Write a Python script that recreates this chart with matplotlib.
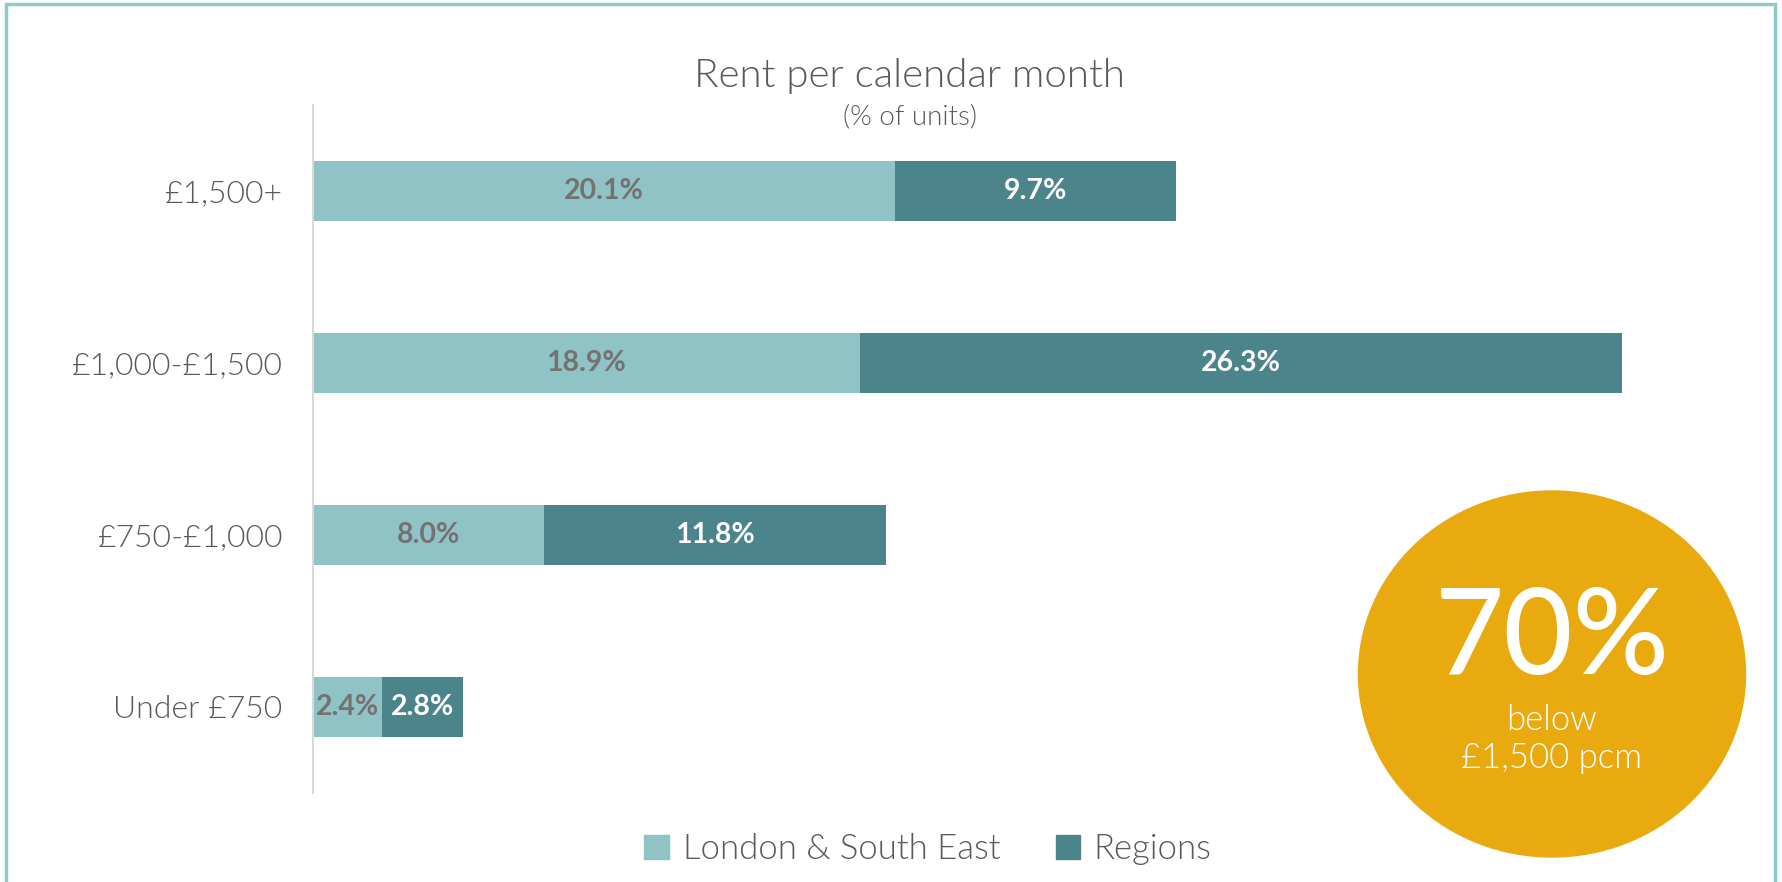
import numpy as np
import matplotlib.pyplot as plt
from matplotlib.patches import Ellipse, Rectangle, Patch

# Share of units by monthly rent band
bands = ['£1,500+', '£1,000-£1,500', '£750-£1,000', 'Under £750']
london_se = [20.1, 18.9, 8.0, 2.4]
regions = [9.7, 26.3, 11.8, 2.8]
headline = '70%'
headline_sub = 'below\n£1,500 pcm'

LIGHT = '#8fc3c5'
DARK = '#4b858b'
GOLD = '#e9aa10'
TEXT = '#595959'
THIN = 300

plt.rcParams['font.family'] = ['Lato', 'DejaVu Sans']

W, H = 1783, 882
fig = plt.figure(figsize=(W / 100, H / 100), dpi=100)

# panel frame
fig.patches.append(Rectangle((6 / W, -0.05), (1775 - 6) / W, (H - 4) / H + 0.05,
                             transform=fig.transFigure, fill=False,
                             edgecolor='#8ecbc8', linewidth=2.5))

ax = fig.add_axes([312.7 / W, 89.4 / H, 1448 / W, 688 / H])
y = np.arange(len(bands))
h = 0.35
ax.barh(y, london_se, height=h, color=LIGHT)
ax.barh(y, regions, left=london_se, height=h, color=DARK)

for i in range(len(bands)):
    ax.text(london_se[i] / 2, y[i], f'{london_se[i]:.1f}%', ha='center', va='center',
            fontsize=20.5, fontweight='bold', color='#767171')
    ax.text(london_se[i] + regions[i] / 2, y[i], f'{regions[i]:.1f}%', ha='center',
            va='center', fontsize=20.5, fontweight='bold', color='white')

ax.set_xlim(0, 50)
ax.set_ylim(3.5, -0.5)
ax.set_yticks(y)
ax.set_yticklabels(bands, fontsize=23, color=TEXT, fontweight=THIN)
ax.tick_params(axis='y', length=0, pad=22)
ax.set_xticks([])
for s in ['top', 'right', 'bottom']:
    ax.spines[s].set_visible(False)
ax.spines['left'].set_color('#d9d9d9')
ax.spines['left'].set_linewidth(1.5)

fig.text(910 / W, 1 - 76 / H, 'Rent per calendar month', ha='center', va='center',
         fontsize=29, color=TEXT, fontweight=THIN)
fig.text(910 / W, 1 - 117 / H, '(% of units)', ha='center', va='center',
         fontsize=20, color=TEXT, fontweight=THIN)

# headline bubble
fig.patches.append(Ellipse((1552 / W, 1 - 674 / H), 387 / W, 366 / H,
                           transform=fig.transFigure, color=GOLD))
fig.text(1552 / W, 1 - 640 / H, headline, ha='center', va='center',
         fontsize=86, color='white', fontweight='medium')
fig.text(1552 / W, 1 - 739 / H, headline_sub, ha='center', va='center',
         fontsize=25, color='white', fontweight=THIN, linespacing=1.25)

handles = [Patch(color=LIGHT, label='London & South East'),
           Patch(color=DARK, label='Regions')]
fig.legend(handles=handles, loc='center', bbox_to_anchor=(928 / W, 1 - 849 / H),
           ncol=2, frameon=False, labelcolor=TEXT,
           handlelength=0.7, handleheight=0.7, handletextpad=0.4, columnspacing=1.6,
           prop={'weight': THIN, 'size': 25})

fig.savefig('out.png', dpi=100)
